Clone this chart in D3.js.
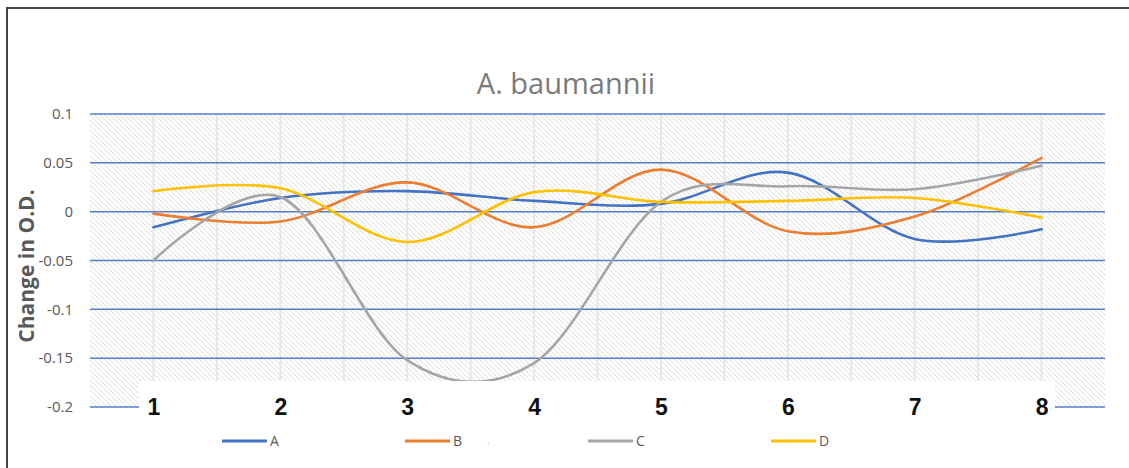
<!DOCTYPE html>
<html>
<head>
<meta charset="utf-8">
<script src="https://cdn.jsdelivr.net/npm/d3@7"></script>
<style>
  html, body { margin: 0; padding: 0; background: #fff; }
  svg { display: block; }
</style>
</head>
<body>
<svg id="chart" width="1129" height="468"></svg>
<script>
// ---- data ----
const categories = ["1", "2", "3", "4", "5", "6", "7", "8"];
const seriesNames = ["A", "B", "C", "D"];
const seriesA = [-0.016, 0.014, 0.021, 0.011, 0.008, 0.040, -0.028, -0.018];
const seriesB = [-0.002, -0.010, 0.030, -0.016, 0.043, -0.020, -0.005, 0.055];
const seriesC = [-0.050, 0.015, -0.152, -0.155, 0.010, 0.026, 0.023, 0.047];
const seriesD = [0.021, 0.024, -0.031, 0.020, 0.010, 0.011, 0.014, -0.006];
const yTicks = [0.1, 0.05, 0, -0.05, -0.1, -0.15, -0.2];
const yTickLabels = ["0.1", "0.05", "0", "-0.05", "-0.1", "-0.15", "-0.2"];
const seriesColors = ["#4472C4", "#ED7D31", "#A5A5A5", "#FFC000"];
const chartTitle = "A. baumannii";
const yTitle = "Change in O.D.";

const seriesValues = [seriesA, seriesB, seriesC, seriesD];

// ---- layout ----
const svg = d3.select("#chart");
const plot = { left: 90, right: 1105, top: 114, bottom: 407 };

const x = d3.scalePoint().domain(categories).range([plot.left, plot.right]).padding(0.5);
const y = d3.scaleLinear().domain([-0.2, 0.1]).range([plot.bottom, plot.top]);

// outer frame (top + left visible)
svg.append("line").attr("x1", 6).attr("x2", 1129).attr("y1", 8).attr("y2", 8)
  .attr("stroke", "#444").attr("stroke-width", 2);
svg.append("line").attr("x1", 7).attr("x2", 7).attr("y1", 7).attr("y2", 468)
  .attr("stroke", "#444").attr("stroke-width", 2);

// hatch pattern
const defs = svg.append("defs");
const pat = defs.append("pattern").attr("id", "hatch")
  .attr("patternUnits", "userSpaceOnUse").attr("width", 5).attr("height", 5);
pat.append("rect").attr("width", 5).attr("height", 5).attr("fill", "#fff");
pat.append("path").attr("d", "M-1,-1 L6,6 M4,-1 L6,1 M-1,4 L1,6")
  .attr("stroke", "#dcdcdc").attr("stroke-width", 1);

svg.append("rect")
  .attr("x", plot.left).attr("y", plot.top)
  .attr("width", plot.right - plot.left).attr("height", plot.bottom - plot.top)
  .attr("fill", "url(#hatch)");

// vertical minor gridlines (every half category)
const step = x.step();
const vlines = [];
categories.forEach((c, i) => {
  vlines.push(x(c));
  if (i < categories.length - 1) vlines.push(x(c) + step / 2);
});
svg.append("g").selectAll("line").data(vlines).join("line")
  .attr("x1", d => d).attr("x2", d => d)
  .attr("y1", plot.top).attr("y2", plot.bottom)
  .attr("stroke", "#e6e6e6").attr("stroke-width", 2);

// horizontal gridlines
svg.append("g").selectAll("line").data(yTicks).join("line")
  .attr("x1", plot.left).attr("x2", plot.right)
  .attr("y1", d => y(d)).attr("y2", d => y(d))
  .attr("stroke", "#4472C4").attr("stroke-width", 1.5).attr("opacity", 0.9);

// series lines
const line = d3.line()
  .x((d, i) => x(categories[i]))
  .y(d => y(d))
  .curve(d3.curveCardinal.tension(0));

svg.append("g").selectAll("path").data(seriesValues).join("path")
  .attr("d", d => line(d))
  .attr("fill", "none")
  .attr("stroke", (d, i) => seriesColors[i])
  .attr("stroke-width", 2.6)
  .attr("stroke-linecap", "round");

// white overlay box for category labels (as in reference)
svg.append("rect").attr("x", 139).attr("y", 381).attr("width", 916).attr("height", 87)
  .attr("fill", "#fff");

// y axis labels
svg.append("g").selectAll("text").data(yTicks).join("text")
  .attr("x", 73).attr("y", d => y(d))
  .attr("dy", "0.35em")
  .attr("text-anchor", "end")
  .attr("font-family", "'Open Sans', 'DejaVu Sans', sans-serif")
  .attr("font-size", 15)
  .attr("fill", "#595959")
  .text((d, i) => yTickLabels[i]);

// x axis labels
const xAxis = d3.axisBottom(x).tickSize(0).tickPadding(0);
const gx = svg.append("g").attr("transform", `translate(0,${plot.bottom - 8})`).call(xAxis);
gx.select(".domain").remove();
gx.selectAll("text")
  .attr("font-family", "'Liberation Sans', Arial, sans-serif")
  .attr("font-weight", "bold")
  .attr("font-size", 23)
  .attr("fill", "#111")
  .attr("dy", "0.71em");

// title
svg.append("text")
  .attr("x", 566).attr("y", 94)
  .attr("text-anchor", "middle")
  .attr("font-family", "'Open Sans', 'DejaVu Sans', sans-serif")
  .attr("font-size", 29)
  .attr("fill", "#7a7a7a")
  .text(chartTitle);

// y title
svg.append("text")
  .attr("transform", "translate(34,266) rotate(-90)")
  .attr("text-anchor", "middle")
  .attr("font-family", "'Open Sans', 'DejaVu Sans', sans-serif")
  .attr("font-weight", "bold")
  .attr("font-size", 21)
  .attr("fill", "#595959")
  .text(yTitle);

// legend
const legendX0 = 222, legendStep = 183, legendY = 441;
const lg = svg.append("g").selectAll("g").data(seriesNames).join("g")
  .attr("transform", (d, i) => `translate(${legendX0 + i * legendStep},${legendY})`);
lg.append("line").attr("x1", 0).attr("x2", 45).attr("y1", 0).attr("y2", 0)
  .attr("stroke", (d, i) => seriesColors[i]).attr("stroke-width", 3);
lg.append("text").attr("x", 48).attr("y", 0).attr("dy", "0.35em")
  .attr("font-family", "'Open Sans', 'DejaVu Sans', sans-serif")
  .attr("font-size", 14).attr("fill", "#595959")
  .text(d => d);
svg.append("text").attr("x", 487).attr("y", 444)
  .attr("font-family", "'Open Sans', sans-serif").attr("font-size", 9).attr("fill", "#999")
  .text(".");
</script>
</body>
</html>
